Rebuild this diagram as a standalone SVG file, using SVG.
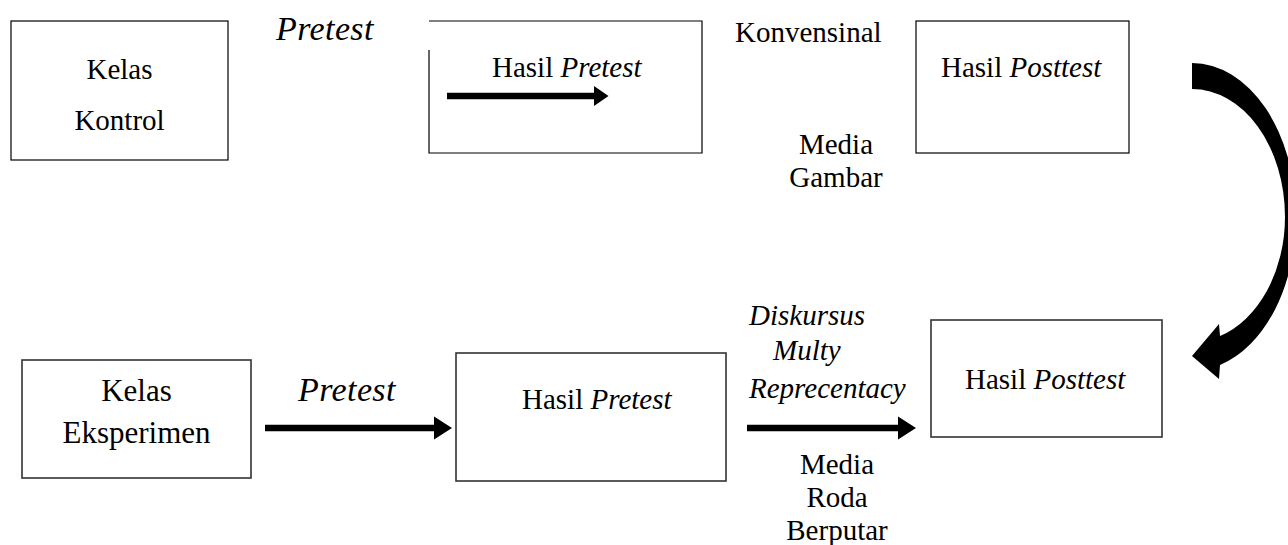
<svg xmlns="http://www.w3.org/2000/svg" width="1288" height="545" viewBox="0 0 1288 545">
  <style>
    text { font-family: "Liberation Serif", "Times New Roman", serif; fill: #000; }
    .t { font-size: 29px; }
    .tb { font-size: 31px; }
    .it { font-style: italic; }
    .pre { font-size: 34px; font-style: italic; letter-spacing: 0.4px; }
    .box { fill: #fff; stroke: #000; stroke-width: 1.2; }
    .boxb { fill: #fff; stroke: #333; stroke-width: 1.6; }
    .shaft { stroke: #000; stroke-width: 6.7; fill: none; }
  </style>
  <defs>
    <marker id="ah" markerUnits="userSpaceOnUse" markerWidth="20" markerHeight="24" refX="0" refY="11.5" orient="auto" overflow="visible">
      <path d="M0,0 L18,11.5 L0,23 Z" fill="#000"/>
    </marker>
    <marker id="ahs" markerUnits="userSpaceOnUse" markerWidth="16" markerHeight="22" refX="0" refY="10" orient="auto" overflow="visible">
      <path d="M0,0 L14.5,10 L0,20 Z" fill="#000"/>
    </marker>
  </defs>

  <!-- control group, top row -->
  <g id="kelas-kontrol">
    <rect class="box" x="11" y="21" width="217" height="139"/>
    <text class="t" x="119.5" y="79" text-anchor="middle">Kelas</text>
    <text class="t" x="119.5" y="130" text-anchor="middle">Kontrol</text>
  </g>

  <g id="label-pretest-top">
    <text class="pre" x="276" y="40">Pretest</text>
  </g>

  <g id="hasil-pretest-top">
    <path class="box" d="M429,50 V153 H702 V21 H429"/>
    <text class="t" x="492" y="77">Hasil <tspan class="it">Pretest</tspan></text>
  </g>

  <g id="label-konvensinal">
    <text class="t" x="735" y="42">Konvensinal</text>
  </g>

  <g id="label-media-gambar">
    <text class="t" x="836" y="154" text-anchor="middle">Media</text>
    <text class="t" x="836" y="187" text-anchor="middle">Gambar</text>
  </g>

  <g id="hasil-posttest-top">
    <rect class="box" x="916" y="21" width="213" height="132"/>
    <text class="t" x="941" y="77">Hasil <tspan class="it">Posttest</tspan></text>
  </g>

  <!-- experiment group, bottom row -->
  <g id="kelas-eksperimen">
    <rect class="boxb" x="22" y="360" width="229" height="118"/>
    <text class="tb" x="136.5" y="401" text-anchor="middle">Kelas</text>
    <text class="tb" x="136.5" y="443" text-anchor="middle">Eksperimen</text>
  </g>

  <g id="label-pretest-bottom">
    <text class="pre" x="298" y="401">Pretest</text>
  </g>

  <g id="hasil-pretest-bottom">
    <rect class="boxb" x="456" y="353" width="270" height="128"/>
    <text class="t" x="522" y="409">Hasil <tspan class="it">Pretest</tspan></text>
  </g>

  <g id="label-diskursus">
    <text class="t it" x="749" y="325">Diskursus</text>
    <text class="t it" x="773" y="360">Multy</text>
    <text class="t it" x="749" y="398">Reprecentacy</text>
  </g>

  <g id="label-media-roda">
    <text class="t" x="837" y="474" text-anchor="middle">Media</text>
    <text class="t" x="837" y="507" text-anchor="middle">Roda</text>
    <text class="t" x="837" y="540" text-anchor="middle">Berputar</text>
  </g>

  <g id="hasil-posttest-bottom">
    <rect class="boxb" x="931" y="320" width="231" height="117"/>
    <text class="t" x="965" y="389">Hasil <tspan class="it">Posttest</tspan></text>
  </g>

  <!-- connectors -->
  <g id="connectors">
    <line class="shaft" x1="447" y1="96" x2="594" y2="96" marker-end="url(#ahs)"/>
    <line class="shaft" x1="265" y1="428" x2="434" y2="428" marker-end="url(#ah)"/>
    <line class="shaft" x1="747" y1="428" x2="898" y2="428" marker-end="url(#ah)"/>
    <!-- curved block arrow from the top row down to the bottom row -->
    <path fill="#000" d="M1192,63 A104,154 0 0 1 1296,217 A104,154 0 0 1 1220,365 L1219,379 L1192,356 L1219,324 L1220,336 A93,125 0 0 0 1285,217 A93,128 0 0 0 1192,89 Z"/>
  </g>
</svg>
